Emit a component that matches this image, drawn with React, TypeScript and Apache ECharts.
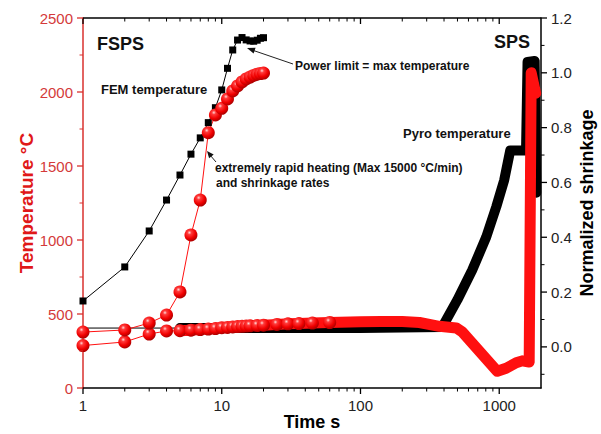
import React, { useEffect, useRef } from "react";
import * as echarts from "echarts";

// ---- data ----
// FSPS: power-limited temperature (black squares), t = 1..20 s
const fspsTime = [1, 2, 3, 4, 5, 6, 7, 8, 9, 10, 11, 12, 13, 14, 15, 16, 17, 18, 19, 20];
const fspsPowerTemp = [588, 818, 1061, 1270, 1439, 1580, 1690, 1793, 1894, 2014, 2160, 2284, 2351, 2368, 2352, 2345, 2343, 2350, 2363, 2367];
// FSPS: FEM temperature (red balls)
const femTemp = [378, 392, 439, 493, 649, 1034, 1270, 1725, 1845, 1890, 1953, 2007, 2041, 2068, 2088, 2101, 2112, 2120, 2125, 2128];

// SPS: normalized shrinkage (red, right axis)
const spsTime = [1, 2, 3, 4, 5, 6, 7, 8, 9, 10, 11, 12, 13, 14, 15, 16, 18, 20, 25, 30, 36, 45, 60, 100, 140, 200, 266, 370, 490, 541, 968, 1122, 1325, 1463, 1644, 1700, 1830];
const spsShrinkage = [0.005, 0.018, 0.047, 0.058, 0.059, 0.061, 0.063, 0.065, 0.067, 0.07, 0.071, 0.073, 0.074, 0.075, 0.076, 0.077, 0.078, 0.079, 0.082, 0.084, 0.085, 0.087, 0.089, 0.092, 0.093, 0.093, 0.089, 0.075, 0.069, 0.055, -0.089, -0.078, -0.058, -0.051, -0.055, 1.0, 0.925];

// SPS: pyrometer temperature (black thick, left axis)
const pyroTime = [1, 5, 100, 389, 499, 639, 806, 951, 1086, 1200, 1560, 1600, 1800, 1850];
const pyroTemp = [405, 405, 405, 412, 595, 797, 1020, 1223, 1405, 1605, 1605, 2203, 2210, 1320];

// axis ticks
const xMajor = [1, 10, 100, 1000];
const xMinor = [2, 3, 4, 5, 6, 7, 8, 9, 20, 30, 40, 50, 60, 70, 80, 90, 200, 300, 400, 500, 600, 700, 800, 900];
const leftMajor = [0, 500, 1000, 1500, 2000, 2500];
const leftMinor = [250, 750, 1250, 1750, 2250];
const rightMajor = [0, 0.2, 0.4, 0.6, 0.8, 1.0, 1.2];
const rightMinor = [-0.1, 0.1, 0.3, 0.5, 0.7, 0.9, 1.1];

const X_MIN = 1;
const X_MAX = 2000;
const T_MIN = 0;
const T_MAX = 2500;
const S_MIN = -0.15;
const S_MAX = 1.2;

const FONT = '"Liberation Sans", Arial, Helvetica, sans-serif';
const RED_AXIS = "#d8312e";
const RED = "#ff1010";

function pairs(xs: number[], ys: number[]) {
  return xs.map((x, i) => [x, ys[i]]);
}

export default function App() {
  const ref = useRef<HTMLDivElement>(null);

  useEffect(() => {
    document.body.style.margin = "0";
    if (!ref.current) return;
    const chart = echarts.init(ref.current, undefined, { renderer: "svg" });

    const ball = new echarts.graphic.RadialGradient(0.38, 0.32, 0.7, [
      { offset: 0, color: "#ffd8d8" },
      { offset: 0.22, color: "#ff3a3a" },
      { offset: 0.65, color: "#f00000" },
      { offset: 1, color: "#a80000" },
    ]);

    const sps = pairs(spsTime, spsShrinkage);
    const pyro = pairs(pyroTime, pyroTemp);

    const option: any = {
      animation: false,
      backgroundColor: "#fff",
      grid: { left: 83, right: 60, top: 18, bottom: 46, containLabel: false, outerBoundsMode: "none" },
      xAxis: [
        {
          type: "log",
          logBase: 10,
          min: X_MIN,
          max: X_MAX,
          position: "bottom",
          name: "Time s",
          nameLocation: "middle",
          nameGap: 25,
          nameMoveOverlap: false,
          nameTextStyle: { fontFamily: FONT, fontSize: 18, fontWeight: "bold", color: "#000" },
          axisLine: { show: true, onZero: false, lineStyle: { color: "#000", width: 1.5 } },
          axisTick: { show: false },
          minorTick: { show: false },
          splitLine: { show: false },
          axisLabel: { show: true, customValues: xMajor, margin: 10, fontFamily: FONT, fontSize: 15, color: "#222", formatter: (v: number) => String(Math.round(v)) },
        },
      ],
      yAxis: [
        {
          type: "value",
          min: T_MIN,
          max: T_MAX,
          interval: 500,
          position: "left",
          name: "Temperature °C",
          nameLocation: "middle",
          nameRotate: 90,
          nameGap: 47,
          nameMoveOverlap: false,
          nameTextStyle: { fontFamily: FONT, fontSize: 19, fontWeight: "bold", color: "#e01818" },
          axisLine: { show: true, onZero: false, lineStyle: { color: RED_AXIS, width: 1.5 } },
          axisTick: { show: false },
          minorTick: { show: false },
          axisLabel: { margin: 10, fontFamily: FONT, fontSize: 15, color: "#d43a3a", formatter: (v: number) => String(v) },
          splitLine: { show: false },
          minorSplitLine: { show: false },
        },
        {
          type: "value",
          min: S_MIN,
          max: S_MAX,
          position: "right",
          name: "Normalized shrinkage",
          nameLocation: "middle",
          nameRotate: 90,
          nameGap: 37,
          nameMoveOverlap: false,
          nameTextStyle: { fontFamily: FONT, fontSize: 18, fontWeight: "bold", color: "#000" },
          axisLine: { show: true, onZero: false, lineStyle: { color: "#000", width: 1.5 } },
          axisTick: { show: false },
          axisLabel: { customValues: rightMajor, margin: 10, fontFamily: FONT, fontSize: 15, color: "#222", formatter: (v: number) => v.toFixed(1) },
          splitLine: { show: false },
        },
      ],
      series: [
        {
          name: "Pyro temperature (thin)",
          type: "line",
          yAxisIndex: 0,
          data: pyro.filter((p) => p[0] <= 5),
          showSymbol: false,
          symbol: "none",
          lineStyle: { color: "#000", width: 1 },
        },
        {
          name: "Pyro temperature",
          type: "line",
          yAxisIndex: 0,
          data: pyro.filter((p) => p[0] >= 5),
          showSymbol: false,
          symbol: "none",
          lineStyle: { color: "#000", width: 10, join: "round", cap: "round" },
        },
        {
          name: "Power limit",
          type: "line",
          yAxisIndex: 0,
          data: pairs(fspsTime, fspsPowerTemp),
          symbol: "rect",
          symbolSize: 7,
          itemStyle: { color: "#000" },
          lineStyle: { color: "#000", width: 1 },
        },
        {
          name: "SPS shrinkage",
          type: "line",
          yAxisIndex: 1,
          data: sps.filter((p) => p[0] >= 5),
          showSymbol: false,
          symbol: "none",
          lineStyle: { color: RED, width: 11, join: "round", cap: "round" },
        },
        {
          name: "SPS shrinkage beads",
          type: "line",
          yAxisIndex: 1,
          data: sps.filter((p) => p[0] <= 60),
          symbol: "circle",
          symbolSize: 13,
          itemStyle: { color: ball },
          lineStyle: { color: RED, width: 1 },
        },
        {
          name: "FEM temperature",
          type: "line",
          yAxisIndex: 0,
          data: pairs(fspsTime, femTemp),
          symbol: "circle",
          symbolSize: 13,
          itemStyle: { color: ball },
          lineStyle: { color: RED, width: 1 },
        },
      ],
    };

    chart.setOption(option);

    // ---- axis frame and ticks, positioned through the chart's cartesian ----
    let rect: any = null;
    try {
      rect = (chart as any).getModel().getComponent("grid", 0).coordinateSystem.getRect();
    } catch (e) {
      rect = null;
    }
    if (!rect || !Number.isFinite(rect.x)) rect = { x: 83, y: 18, width: 458, height: 370 };

    const tryPoint = (seriesIndex: number, x: number, y: number): number[] | null => {
      try {
        const r: any = chart.convertToPixel({ seriesIndex } as any, [x, y]);
        if (r && Number.isFinite(r[0]) && Number.isFinite(r[1])) return r;
      } catch (e) {
        /* ignore */
      }
      return null;
    };
    const px = (v: number) => {
      const r = tryPoint(2, v, T_MIN);
      if (r) return r[0];
      return rect.x + (rect.width * Math.log10(v / X_MIN)) / Math.log10(X_MAX / X_MIN);
    };
    const pyT = (v: number) => {
      const r = tryPoint(2, X_MIN, v);
      if (r) return r[1];
      return rect.y + rect.height * (1 - (v - T_MIN) / (T_MAX - T_MIN));
    };
    const pyS = (v: number) => {
      const r = tryPoint(3, X_MIN, v);
      if (r) return r[1];
      return rect.y + rect.height * (1 - (v - S_MIN) / (S_MAX - S_MIN));
    };

    const xL = px(X_MIN);
    const xR = px(X_MAX);
    const yTop = pyT(T_MAX);
    const yBot = pyT(T_MIN);

    const ticks: any[] = [];
    const vLine = (x: number, y: number, h: number, w: number, color: string) => ({
      type: "rect",
      silent: true,
      z: 50,
      shape: { x: x - w / 2, y, width: w, height: h },
      style: { fill: color },
    });
    const hLine = (x: number, y: number, len: number, w: number, color: string) => ({
      type: "rect",
      silent: true,
      z: 50,
      shape: { x, y: y - w / 2, width: len, height: w },
      style: { fill: color },
    });

    // top frame line
    ticks.push({ type: "rect", silent: true, z: 50, shape: { x: xL, y: yTop - 0.75, width: xR - xL, height: 1.5 }, style: { fill: "#000" } });
    // time ticks: bottom outward, top inward
    xMajor.forEach((v) => {
      const x = px(v);
      ticks.push(vLine(x, yBot, 6, 1.3, "#000"));
      ticks.push(vLine(x, yTop, 6, 1.3, "#000"));
    });
    xMinor.forEach((v) => {
      const x = px(v);
      ticks.push(vLine(x, yBot, 3.5, 1, "#000"));
      ticks.push(vLine(x, yTop, 3.5, 1, "#000"));
    });
    // left temperature ticks (outward)
    leftMajor.forEach((v) => ticks.push(hLine(xL - 6, pyT(v), 6, 1.3, RED_AXIS)));
    leftMinor.forEach((v) => ticks.push(hLine(xL - 3.5, pyT(v), 3.5, 1, RED_AXIS)));
    // right shrinkage ticks (outward)
    rightMajor.forEach((v) => ticks.push(hLine(xR, pyS(v), 6, 1.3, "#000")));
    rightMinor.forEach((v) => ticks.push(hLine(xR, pyS(v), 3.5, 1, "#000")));

    const texts: any[] = [
      { type: "text", x: 97, y: 44, style: { text: "FSPS", font: `bold 18px ${FONT}`, fill: "#111", verticalAlign: "middle" } },
      { type: "text", x: 494, y: 42, style: { text: "SPS", font: `bold 18px ${FONT}`, fill: "#111", verticalAlign: "middle" } },
      { type: "text", x: 101, y: 89, style: { text: "FEM temperature", font: `bold 13px ${FONT}`, fill: "#111", verticalAlign: "middle" } },
      { type: "text", x: 295, y: 66, style: { text: "Power limit = max temperature", font: `bold 12px ${FONT}`, fill: "#111", verticalAlign: "middle" } },
      { type: "text", x: 215, y: 168, style: { text: "extremely rapid heating (Max 15000 °C/min)", font: `bold 12px ${FONT}`, fill: "#111", verticalAlign: "middle" } },
      { type: "text", x: 216, y: 183, style: { text: "and shrinkage rates", font: `bold 12px ${FONT}`, fill: "#111", verticalAlign: "middle" } },
      { type: "text", x: 403, y: 133, style: { text: "Pyro temperature", font: `bold 13px ${FONT}`, fill: "#111", verticalAlign: "middle" } },
      { type: "line", shape: { x1: 293, y1: 64, x2: 252, y2: 50 }, style: { stroke: "#222", lineWidth: 1 } },
      { type: "polygon", shape: { points: [[247, 48], [253.6, 53.4], [255.6, 47.8]] }, style: { fill: "#111" } },
      { type: "line", shape: { x1: 216, y1: 162, x2: 210, y2: 155 }, style: { stroke: "#222", lineWidth: 1 } },
      { type: "polygon", shape: { points: [[207, 151], [209.1, 158.3], [213.7, 154.5]] }, style: { fill: "#111" } },
    ];

    chart.setOption({ graphic: [...texts, ...ticks] });
    return () => chart.dispose();
  }, []);

  return <div ref={ref} style={{ position: "absolute", left: 0, top: 0, width: 601, height: 434 }} />;
}
